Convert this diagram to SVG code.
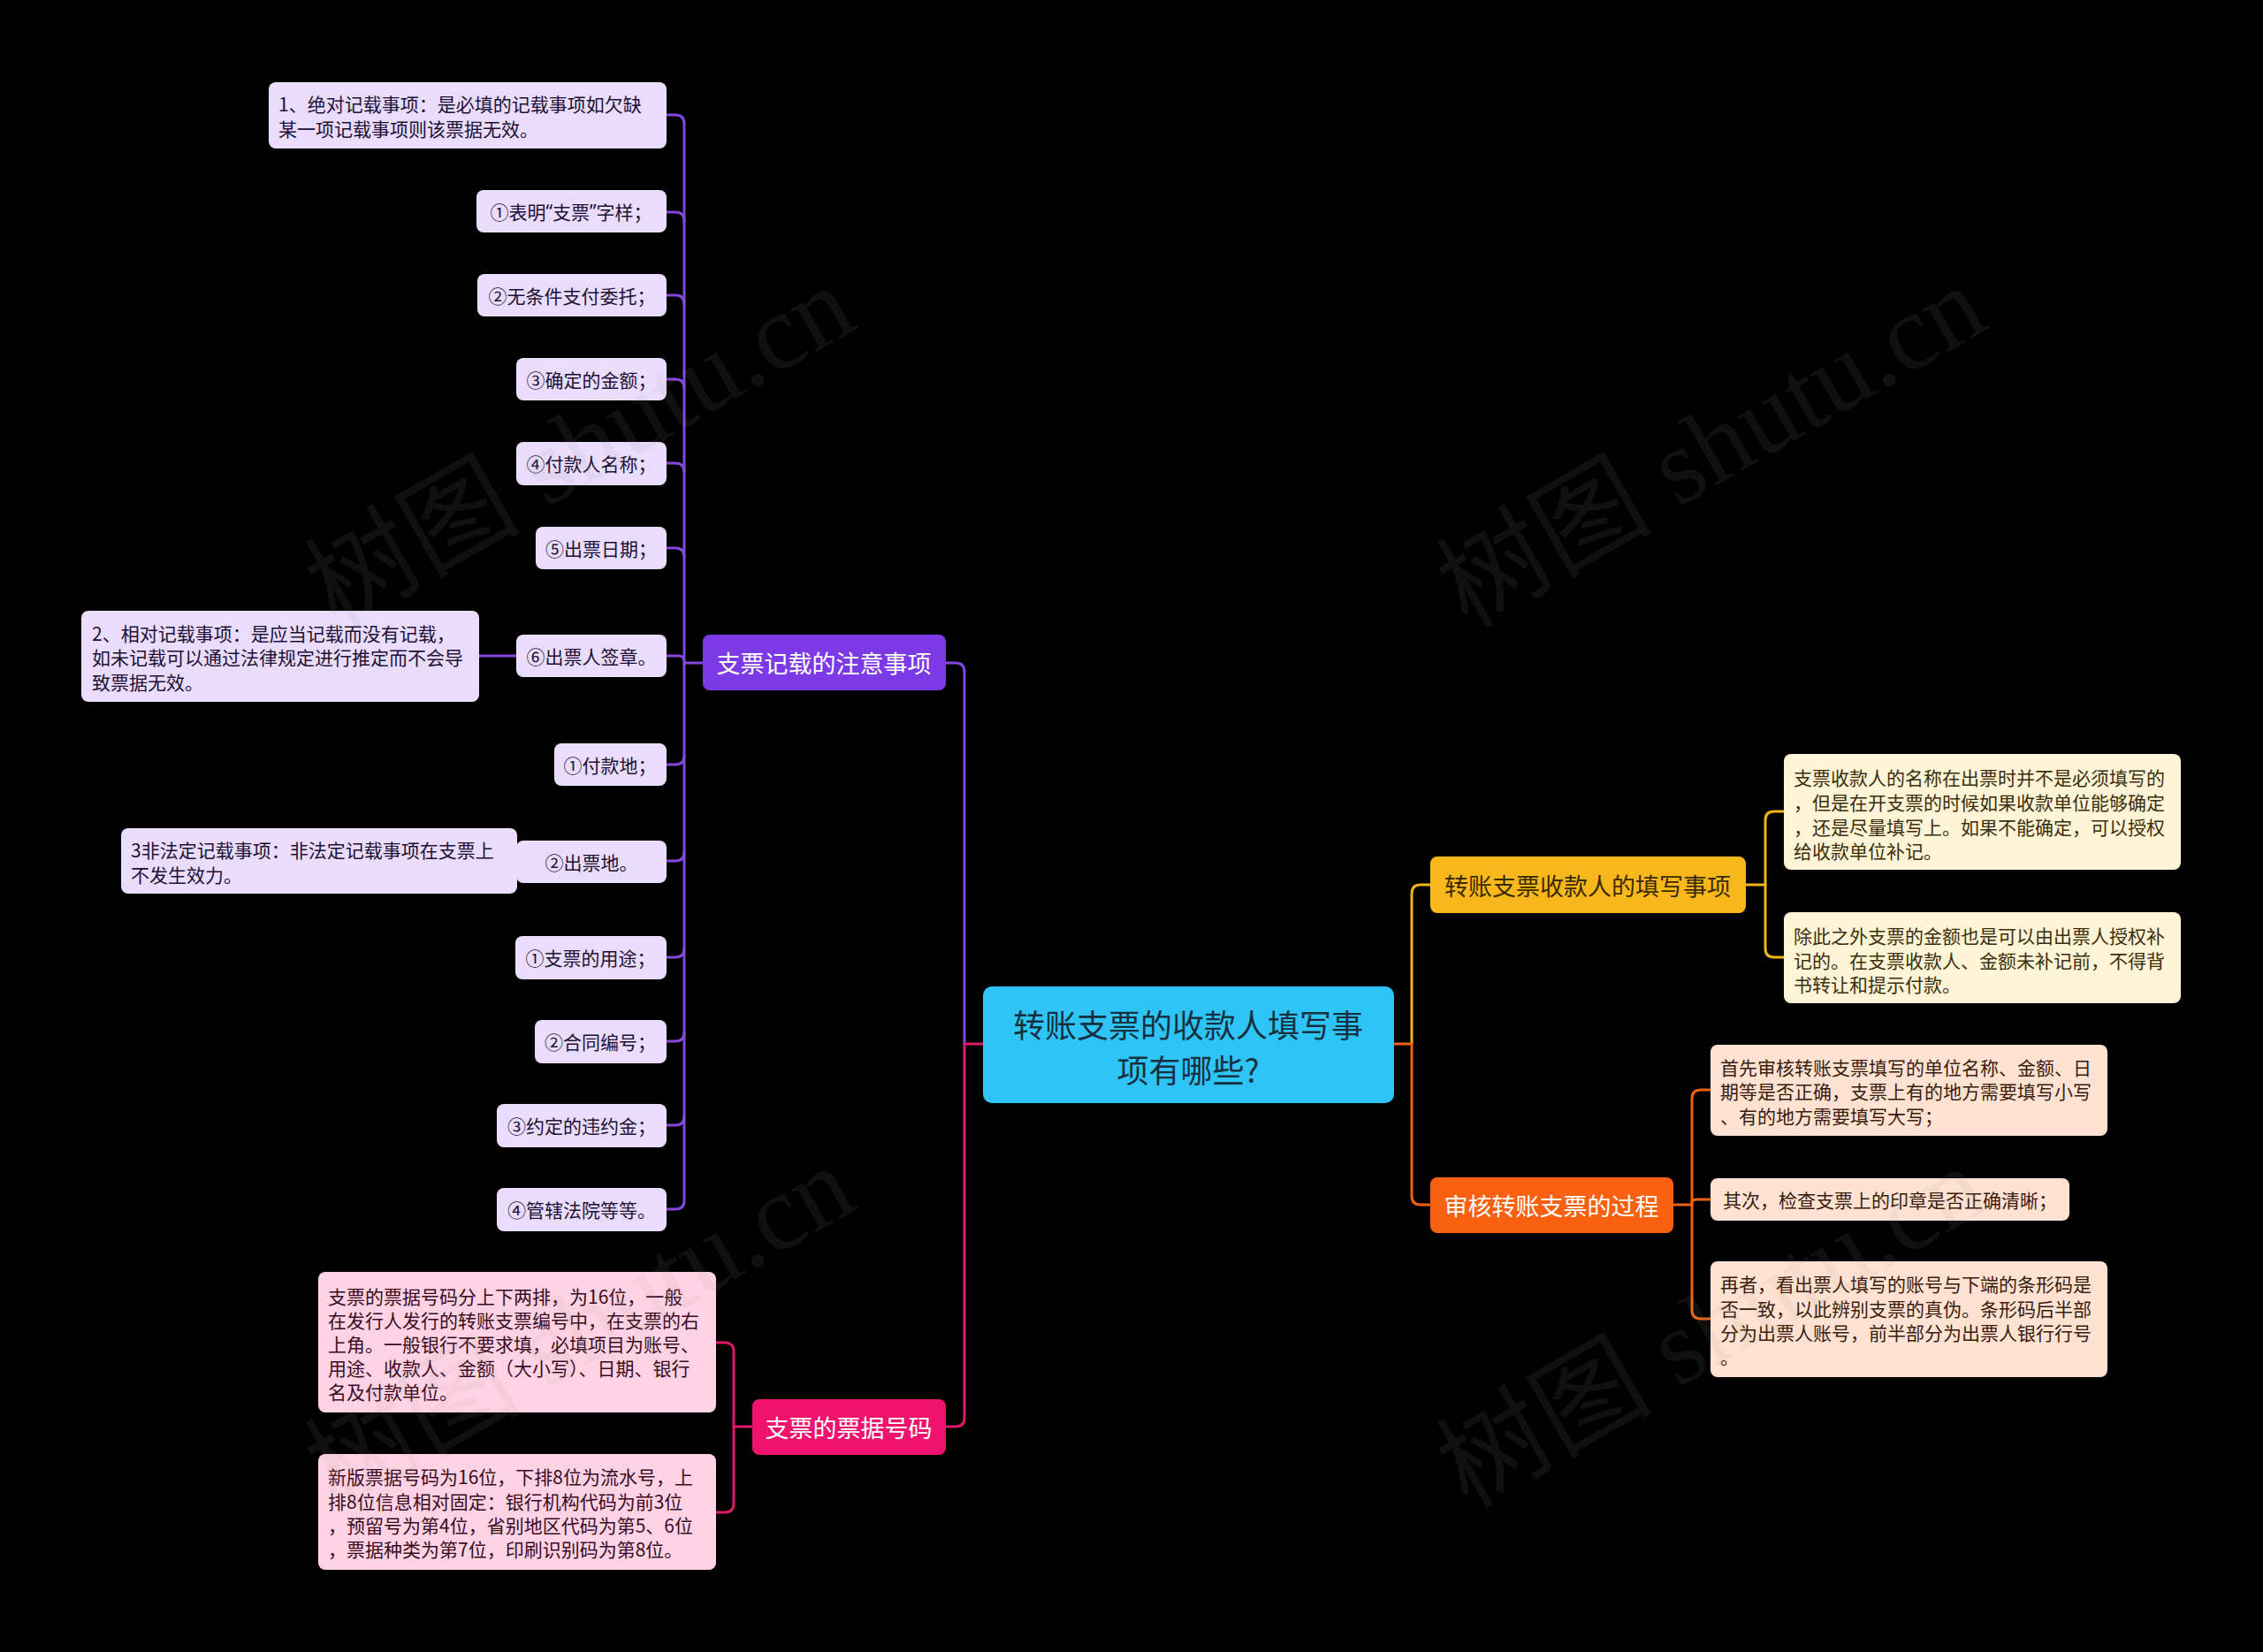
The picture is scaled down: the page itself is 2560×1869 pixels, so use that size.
<svg xmlns="http://www.w3.org/2000/svg" width="2560" height="1869" viewBox="0 0 2560 1869">
<style>
text{font-family:"Noto Sans CJK SC","Noto Sans",sans-serif;dominant-baseline:central}
.leaf{font-size:21px}
.c{text-anchor:middle}
.br{font-size:27px;text-anchor:middle}
.q{font-family:"Noto Sans","Liberation Sans",sans-serif}
.ln{fill:none;stroke-width:3;stroke-linecap:round;stroke-linejoin:round}
.pl{stroke:#8446DB}.pk{stroke:#E0176A}.yl{stroke:#F2B315}.or{stroke:#F06012}
.fp{fill:#E9DDFB}.fpt{fill:#1E1036}
.fk{fill:#FFD3E3}.fkt{fill:#3A0B1E}
.fy{fill:#FFF4D5}.fyt{fill:#3B2E0E}
.fo{fill:#FFE2D2}.fot{fill:#3A1B0C}
.wm{font-family:"Liberation Serif","Noto Sans CJK SC",serif;font-size:122px;fill:#999;fill-opacity:0.1;dominant-baseline:auto}
</style>
<rect width="2560" height="1869" fill="#000"/>

<g id="connectors">
  <path class="ln pl" d="M1091 1181 V760 Q1091 750 1081 750 H1069"/>
  <path class="ln pk" d="M1112 1181 H1091 V1604 Q1091 1614 1081 1614 H1069"/>
  <path class="ln yl" d="M1597 1181 V1011 Q1597 1001 1607 1001 H1618"/>
  <path class="ln or" d="M1577 1181 H1597 V1353 Q1597 1363 1607 1363 H1618"/>
  <path class="ln pl" d="M795 750 H774 V140 Q774 130 764 130 H754"/>
  <path class="ln pl" d="M774 250 Q774 240 764 240 H754"/>
  <path class="ln pl" d="M774 344 Q774 334 764 334 H754"/>
  <path class="ln pl" d="M774 439 Q774 429 764 429 H754"/>
  <path class="ln pl" d="M774 534 Q774 524 764 524 H754"/>
  <path class="ln pl" d="M774 630 Q774 620 764 620 H754"/>
  <path class="ln pl" d="M774 748 Q774 742 768 742 H754"/>
  <path class="ln pl" d="M774 750 V1358 Q774 1368 764 1368 H754"/>
  <path class="ln pl" d="M774 855 Q774 865 764 865 H754"/>
  <path class="ln pl" d="M774 964 Q774 974 764 974 H754"/>
  <path class="ln pl" d="M774 1073 Q774 1083 764 1083 H754"/>
  <path class="ln pl" d="M774 1168 Q774 1178 764 1178 H754"/>
  <path class="ln pl" d="M774 1263 Q774 1273 764 1273 H754"/>
  <path class="ln pl" d="M584 742 H542"/>
  <path class="ln pl" d="M584 974 H585"/>
  <path class="ln pk" d="M851 1614 H830 V1529 Q830 1519 820 1519 H810"/>
  <path class="ln pk" d="M830 1614 V1701 Q830 1711 820 1711 H810"/>
  <path class="ln yl" d="M1975 1001 H1997 V928 Q1997 918 2007 918 H2018"/>
  <path class="ln yl" d="M1997 1001 V1073 Q1997 1083 2007 1083 H2018"/>
  <path class="ln or" d="M1893 1363 H1914 V1243 Q1914 1233 1924 1233 H1935"/>
  <path class="ln or" d="M1914 1363 V1360 Q1914 1357 1920 1357 H1935"/>
  <path class="ln or" d="M1914 1363 V1482 Q1914 1492 1924 1492 H1935"/>
</g>

<g id="center">
  <rect x="1112" y="1116" width="465" height="132" rx="10" fill="#2EC5F6"/>
  <text x="1344" y="1158" class="c" font-size="36" fill="#163040">转账支票的收款人填写事</text>
  <text x="1344" y="1209" class="c" font-size="36" fill="#163040">项有哪些?</text>
</g>

<g id="b-purple">
  <rect x="795" y="718" width="275" height="63" rx="8" fill="#7C3AE6"/>
  <text x="932" y="749" class="br" fill="#fff">支票记载的注意事项</text>
</g>
<g id="b-pink">
  <rect x="851" y="1583" width="219" height="63" rx="8" fill="#F0136E"/>
  <text x="960" y="1614" class="br" fill="#fff">支票的票据号码</text>
</g>
<g id="b-yellow">
  <rect x="1618" y="969" width="357" height="64" rx="8" fill="#F8B71A"/>
  <text x="1796" y="1001" class="br" fill="#3B2A00">转账支票收款人的填写事项</text>
</g>
<g id="b-orange">
  <rect x="1618" y="1332" width="275" height="63" rx="8" fill="#F9600F"/>
  <text x="1755" y="1363" class="br" fill="#fff">审核转账支票的过程</text>
</g>

<g id="p1"><rect class="fp" x="304" y="93" width="450" height="75" rx="8"/>
  <text class="leaf fpt" x="315" y="117">1、绝对记载事项：是必填的记载事项如欠缺</text>
  <text class="leaf fpt" x="315" y="145">某一项记载事项则该票据无效。</text></g>
<g id="p2"><rect class="fp" x="539" y="215" width="215" height="48" rx="8"/>
  <text class="leaf fpt c" x="646" y="239">①表明<tspan class="q">“</tspan>支票<tspan class="q">”</tspan>字样；</text></g>
<g id="p3"><rect class="fp" x="540" y="310" width="214" height="48" rx="8"/>
  <text class="leaf fpt c" x="647" y="334">②无条件支付委托；</text></g>
<g id="p4"><rect class="fp" x="584" y="405" width="170" height="48" rx="8"/>
  <text class="leaf fpt c" x="669" y="429">③确定的金额；</text></g>
<g id="p5"><rect class="fp" x="584" y="500" width="170" height="49" rx="8"/>
  <text class="leaf fpt c" x="669" y="524">④付款人名称；</text></g>
<g id="p6"><rect class="fp" x="606" y="596" width="148" height="48" rx="8"/>
  <text class="leaf fpt c" x="680" y="620">⑤出票日期；</text></g>
<g id="p7"><rect class="fp" x="584" y="718" width="170" height="48" rx="8"/>
  <text class="leaf fpt c" x="669" y="742">⑥出票人签章。</text></g>
<g id="p8"><rect class="fp" x="92" y="691" width="450" height="103" rx="8"/>
  <text class="leaf fpt" x="104" y="716">2、相对记载事项：是应当记载而没有记载，</text>
  <text class="leaf fpt" x="104" y="743">如未记载可以通过法律规定进行推定而不会导</text>
  <text class="leaf fpt" x="104" y="771">致票据无效。</text></g>
<g id="p9"><rect class="fp" x="627" y="841" width="127" height="48" rx="8"/>
  <text class="leaf fpt c" x="690" y="865">①付款地；</text></g>
<g id="p10"><rect class="fp" x="584" y="951" width="170" height="48" rx="8"/>
  <text class="leaf fpt c" x="669" y="975">②出票地。</text></g>
<g id="p11"><rect class="fp" x="137" y="937" width="448" height="74" rx="8"/>
  <text class="leaf fpt" x="148" y="961">3非法定记载事项：非法定记载事项在支票上</text>
  <text class="leaf fpt" x="148" y="989">不发生效力。</text></g>
<g id="p12"><rect class="fp" x="583" y="1059" width="171" height="49" rx="8"/>
  <text class="leaf fpt c" x="668" y="1083">①支票的用途；</text></g>
<g id="p13"><rect class="fp" x="605" y="1154" width="149" height="49" rx="8"/>
  <text class="leaf fpt c" x="679" y="1178">②合同编号；</text></g>
<g id="p14"><rect class="fp" x="562" y="1249" width="192" height="49" rx="8"/>
  <text class="leaf fpt c" x="658" y="1273">③约定的违约金；</text></g>
<g id="p15"><rect class="fp" x="562" y="1344" width="192" height="49" rx="8"/>
  <text class="leaf fpt c" x="658" y="1368">④管辖法院等等。</text></g>

<g id="k1"><rect class="fk" x="360" y="1439" width="450" height="159" rx="8"/>
  <text class="leaf fkt" x="371" y="1466">支票的票据号码分上下两排，为16位，一般</text>
  <text class="leaf fkt" x="371" y="1493">在发行人发行的转账支票编号中，在支票的右</text>
  <text class="leaf fkt" x="371" y="1520">上角。一般银行不要求填，必填项目为账号、</text>
  <text class="leaf fkt" x="371" y="1547">用途、收款人、金额（大小写）、日期、银行</text>
  <text class="leaf fkt" x="371" y="1574">名及付款单位。</text></g>
<g id="k2"><rect class="fk" x="360" y="1645" width="450" height="131" rx="8"/>
  <text class="leaf fkt" x="371" y="1670">新版票据号码为16位，下排8位为流水号，上</text>
  <text class="leaf fkt" x="371" y="1698">排8位信息相对固定：银行机构代码为前3位</text>
  <text class="leaf fkt" x="371" y="1725">，预留号为第4位，省别地区代码为第5、6位</text>
  <text class="leaf fkt" x="371" y="1752">，票据种类为第7位，印刷识别码为第8位。</text></g>

<g id="y1"><rect class="fy" x="2018" y="853" width="449" height="131" rx="8"/>
  <text class="leaf fyt" x="2029" y="879">支票收款人的名称在出票时并不是必须填写的</text>
  <text class="leaf fyt" x="2029" y="907">，但是在开支票的时候如果收款单位能够确定</text>
  <text class="leaf fyt" x="2029" y="935">，还是尽量填写上。如果不能确定，可以授权</text>
  <text class="leaf fyt" x="2029" y="962">给收款单位补记。</text></g>
<g id="y2"><rect class="fy" x="2018" y="1032" width="449" height="103" rx="8"/>
  <text class="leaf fyt" x="2029" y="1058">除此之外支票的金额也是可以由出票人授权补</text>
  <text class="leaf fyt" x="2029" y="1086">记的。在支票收款人、金额未补记前，不得背</text>
  <text class="leaf fyt" x="2029" y="1113">书转让和提示付款。</text></g>

<g id="o1"><rect class="fo" x="1935" y="1182" width="449" height="103" rx="8"/>
  <text class="leaf fot" x="1946" y="1207">首先审核转账支票填写的单位名称、金额、日</text>
  <text class="leaf fot" x="1946" y="1234">期等是否正确，支票上有的地方需要填写小写</text>
  <text class="leaf fot" x="1946" y="1262">、有的地方需要填写大写；</text></g>
<g id="o2"><rect class="fo" x="1935" y="1333" width="406" height="48" rx="8"/>
  <text class="leaf fot c" x="2138" y="1357">其次，检查支票上的印章是否正确清晰；</text></g>
<g id="o3"><rect class="fo" x="1935" y="1427" width="449" height="131" rx="8"/>
  <text class="leaf fot" x="1946" y="1452">再者，看出票人填写的账号与下端的条形码是</text>
  <text class="leaf fot" x="1946" y="1480">否一致，以此辨别支票的真伪。条形码后半部</text>
  <text class="leaf fot" x="1946" y="1507">分为出票人账号，前半部分为出票人银行行号</text>
  <text class="leaf fot" x="1946" y="1534">。</text></g>

<g id="watermarks">
  <text class="wm" transform="translate(380,712) rotate(-30)">树图 shutu.cn</text>
  <text class="wm" transform="translate(1660,712) rotate(-30)">树图 shutu.cn</text>
  <text class="wm" transform="translate(380,1708) rotate(-30)">树图 shutu.cn</text>
  <text class="wm" transform="translate(1660,1708) rotate(-30)">树图 shutu.cn</text>
</g>
</svg>
